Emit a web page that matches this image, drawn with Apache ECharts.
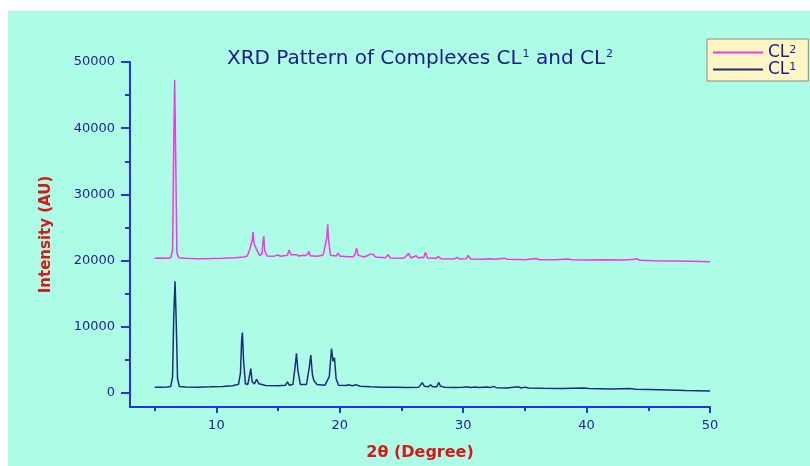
<!DOCTYPE html>
<html>
<head>
<meta charset="utf-8">
<title>XRD Pattern of Complexes</title>
<script src="https://cdn.jsdelivr.net/npm/echarts@6/dist/echarts.min.js"></script>
<style>
html,body{margin:0;padding:0;background:#fff;}
#main{width:810px;height:466px;}
</style>
</head>
<body>
<div id="main"></div>
<script>
// CL2 (pink) pattern, [2theta, intensity]
var cl2 = [
	[5.0,20350],[5.5,20400],[6.0,20380],[6.3,20450],[6.45,21500],[6.55,38000],[6.62,47300],[6.7,36000],[6.8,21200],[6.95,20450],
	[7.5,20350],[8.5,20300],[9.5,20320],[10.5,20380],[11.5,20450],[12.2,20550],[12.5,20700],[12.65,21400],[12.8,21300],[12.9,23000],
	[12.97,24300],[13.05,22600],[13.17,22300],[13.3,21500],[13.5,20800],[13.7,21000],[13.78,23000],[13.84,23700],[13.92,21500],[14.1,20700],
	[14.6,20650],[15.0,20850],[15.2,20650],[15.75,20800],[15.9,21600],[16.05,20900],[16.49,20900],[16.7,20700],[17.0,20800],[17.08,21000],
	[17.2,20750],[17.4,21000],[17.49,21400],[17.6,20750],[18.2,20650],[18.6,20800],[18.7,21200],[18.85,21000],[18.95,23500],[19.02,25500],
	[19.1,23000],[19.25,20800],[19.7,20700],[19.87,21140],[20.0,20700],[20.6,20600],[20.73,20650],[21.1,20600],[21.25,21000],[21.36,21900],
	[21.5,20800],[22.0,20550],[22.44,20950],[22.55,20700],[22.7,20950],[22.9,20550],[23.7,20450],[23.9,20880],[24.1,20400],[25.1,20350],
	[25.28,20500],[25.4,20400],[25.58,21100],[25.75,20400],[26.2,20740],[26.35,20400],[26.6,20500],[26.8,20450],[26.95,21290],[27.1,20400],
	[27.8,20350],[27.98,20600],[28.2,20300],[29.3,20250],[29.5,20500],[29.7,20250],[30.25,20300],[30.4,20790],[30.6,20250],[31.5,20200],
	[32.2,20300],[32.6,20200],[33.3,20380],[33.6,20200],[35.0,20150],[35.9,20330],[36.2,20150],[37.5,20150],[38.5,20250],[38.6,20440],
	[38.8,20150],[40.0,20100],[41.5,20150],[43.0,20100],[43.9,20200],[44.07,20300],[44.3,20050],[45.5,20000],[47.0,19950],[48.5,19900],
	[50.0,19850]
];

// CL1 (navy) pattern
var cl1 = [
	[5.0,870],[5.5,900],[6.0,920],[6.3,980],[6.45,2500],[6.55,12000],[6.65,16900],[6.75,10500],[6.85,2200],[7.0,1000],
	[7.5,920],[8.5,900],[9.5,940],[10.5,1000],[11.3,1100],[11.8,1350],[11.95,3000],[12.05,8200],[12.11,9150],[12.2,5000],
	[12.35,1400],[12.55,1300],[12.7,2800],[12.79,3700],[12.9,1700],[13.1,1400],[13.25,2100],[13.33,2370],[13.45,1400],[14.0,1150],
	[15.0,1100],[15.6,1200],[15.76,1700],[15.9,1200],[16.2,1300],[16.38,4000],[16.49,5990],[16.6,3500],[16.8,1300],[17.3,1300],
	[17.52,3800],[17.65,5740],[17.78,2800],[17.9,1900],[17.98,2070],[18.15,1300],[18.8,1200],[19.15,2500],[19.33,6740],[19.45,4800],
	[19.57,5330],[19.7,2200],[19.9,1200],[20.5,1150],[20.73,1250],[21.0,1100],[21.36,1250],[21.6,1050],[22.5,950],[23.5,900],
	[24.5,880],[25.5,860],[26.4,900],[26.68,1560],[26.85,1050],[27.0,1150],[27.15,950],[27.36,1240],[27.55,950],[27.85,950],
	[28.03,1610],[28.15,1050],[28.25,1080],[28.5,880],[29.3,850],[30.0,880],[30.28,950],[30.6,860],[30.95,930],[31.3,840],
	[31.9,930],[32.2,830],[32.44,1020],[32.7,820],[33.5,780],[34.46,950],[34.7,780],[35.0,900],[35.3,760],[36.5,720],
	[38.0,700],[39.8,780],[40.2,680],[42.0,620],[43.5,700],[44.0,580],[46.0,500],[48.0,400],[50.0,320]
];

var yTicks = [0,10000,20000,30000,40000,50000];
var yMinor = [5000,15000,25000,35000,45000];
var xTicks = [10,20,30,40,50];
var xMinor = [5,15,25,35,45];

var axisBlue = '#2630ee';
var labelNavy = '#1e1e96';
var red = '#d81818';
var font = 'DejaVu Sans';

var myChart = echarts.init(document.getElementById('main'));

//纯数字刻度
function plain(v){ return String(v); }

option = {
	animation:false,
	textStyle:{fontFamily:font},
	graphic:[{
		type:'rect', z:-10, silent:true,
		shape:{x:8, y:11, width:802, height:455},
		style:{fill:'#adfde6'}
	}],
	title:{
		text:'XRD Pattern of Complexes CL{s|1} and CL{s|2}',
		left:222, top:44,
		textStyle:{
			fontFamily:font, fontSize:20, fontWeight:'normal', color:'#1b1b8a',
			rich:{s:{fontFamily:font, fontSize:11, color:'#1b1b8a', verticalAlign:'top', padding:[0,0,0,1]}}
		}
	},
	legend:{
		orient:'vertical',
		left:707, top:39,
		padding:[5,12,3,6],
		itemGap:0,
		itemWidth:50, itemHeight:2,
		itemStyle:{borderWidth:0},
		icon:'rect',
		backgroundColor:'#fff6c4',
		borderColor:'#8c8c80', borderWidth:1,
		data:['CL2','CL1'],
		formatter:function(name){ return '{b|CL}{s|' + name.charAt(2) + '}'; },
		textStyle:{
			color:'#1b1b8a',
			rich:{
				b:{fontFamily:font, fontSize:17, color:'#1b1b8a', lineHeight:15},
				s:{fontFamily:font, fontSize:11, color:'#1b1b8a', verticalAlign:'top', lineHeight:15}
			}
		}
	},
	grid:{outerBoundsMode:'none', left:130, top:62, width:580, height:345},
	xAxis:[{
		type:'value', min:3, max:50,
		name:'2θ (Degree)', nameLocation:'middle', nameGap:38,
		nameTextStyle:{fontFamily:font, fontSize:16, fontWeight:'bold', color:red},
		axisLine:{show:true, onZero:false, lineStyle:{color:axisBlue, width:2}},
		axisTick:{show:true, length:6, customValues:xTicks, lineStyle:{color:axisBlue, width:2}},
		axisLabel:{show:true, customValues:xTicks, formatter:plain, margin:12, fontSize:13, color:labelNavy, fontFamily:font},
		splitLine:{show:false}
	},{
		type:'value', min:3, max:50, position:'bottom',
		axisLine:{show:false, onZero:false},
		axisTick:{show:true, length:4, customValues:xMinor, lineStyle:{color:axisBlue, width:2}},
		axisLabel:{show:false},
		splitLine:{show:false}
	}],
	yAxis:[{
		type:'value', min:-2100, max:50000,
		name:'Intensity (AU)', nameLocation:'middle', nameGap:76,
		nameTextStyle:{fontFamily:font, fontSize:15, fontWeight:'bold', color:red},
		axisLine:{show:true, onZero:false, lineStyle:{color:axisBlue, width:2}},
		axisTick:{show:true, length:9, customValues:yTicks, lineStyle:{color:axisBlue, width:2}},
		axisLabel:{show:true, customValues:yTicks, formatter:plain, margin:15, fontSize:13, color:labelNavy, fontFamily:font},
		splitLine:{show:false}
	},{
		type:'value', min:-2100, max:50000, position:'left',
		axisLine:{show:false, onZero:false},
		axisTick:{show:true, length:5, customValues:yMinor, lineStyle:{color:axisBlue, width:2}},
		axisLabel:{show:false},
		splitLine:{show:false}
	}],
	series:[
		{
			name:'CL2', type:'line', xAxisIndex:0, yAxisIndex:0,
			showSymbol:false, symbol:'none',
			color:'#f535e6',
			lineStyle:{width:1.5, color:'#f535e6'},
			data:cl2
		},
		{
			name:'CL1', type:'line', xAxisIndex:0, yAxisIndex:0,
			showSymbol:false, symbol:'none',
			color:'#1f2c7c',
			lineStyle:{width:1.5, color:'#1f2c7c'},
			data:cl1
		}
	]
};

myChart.setOption(option);
</script>
</body>
</html>
